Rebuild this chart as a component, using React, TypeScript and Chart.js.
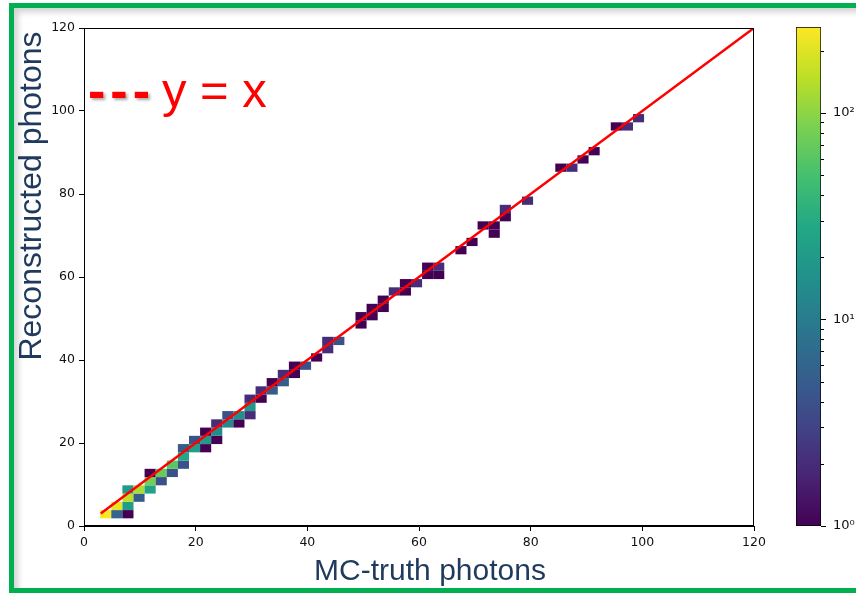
import React, { useEffect, useRef } from "react";
import { Chart, registerables } from "chart.js";

Chart.register(...registerables);

// ---------- data ----------
const AXIS_MIN = 0;
const AXIS_MAX = 120;
const AXIS_TICKS = [0, 20, 40, 60, 80, 100, 120];

// 2D-histogram binning (bin lower edge in data units, bin width)
const BIN_X0 = 2.9;
const BIN_Y0 = 1.85;
const BIN_W = 1.988;

// non-empty bins: x-bin index, y-bin index, entries
const CELL_I = [
  0,
  1, 1,
  2, 2, 2, 2,
  3, 3,
  4, 4, 4,
  5, 5,
  6, 6,
  7, 7, 7,
  8, 8,
  9, 9, 9,
  10, 10, 10,
  11, 11,
  12, 12,
  13, 13, 13,
  14, 14,
  15, 15,
  16, 16,
  17, 17,
  18,
  19,
  20, 20,
  21,
  23, 23,
  24, 24,
  25, 25,
  26,
  27, 27,
  28,
  29, 29,
  30, 30,
  32,
  33,
  34,
  35, 35,
  36, 36,
  38,
  41,
  42,
  43,
  44,
  46,
  47,
  48,
];
const CELL_J = [
  0,
  0, 1,
  0, 1, 2, 3,
  2, 3,
  3, 4, 5,
  4, 5,
  5, 6,
  6, 7, 8,
  8, 9,
  8, 9, 10,
  9, 10, 11,
  11, 12,
  11, 12,
  12, 13, 14,
  14, 15,
  15, 16,
  16, 17,
  17, 18,
  18,
  19,
  20, 21,
  21,
  23, 24,
  24, 25,
  25, 26,
  27,
  27, 28,
  28,
  29, 30,
  29, 30,
  32,
  33,
  35,
  34, 35,
  36, 37,
  38,
  42,
  42,
  43,
  44,
  47,
  47,
  48,
];
const CELL_COUNT = [
  250,
  6, 220,
  1, 22, 150, 20,
  5, 130,
  25, 80, 1,
  4, 70,
  4, 60,
  4, 28, 5,
  22, 4,
  1, 20, 1,
  1, 15, 2,
  14, 4,
  1, 16,
  2, 18, 2,
  1, 2,
  5, 1,
  5, 2,
  1, 1,
  4,
  1,
  2, 2,
  4,
  1, 1,
  1, 1,
  1, 1,
  2,
  1, 1,
  2,
  1, 1,
  1, 2,
  1,
  1,
  1,
  1, 1,
  1, 2,
  2,
  1,
  2,
  1,
  1,
  1,
  2,
  2,
];

// y = x reference line
const LINE_X = [3, 120];
const LINE_Y = [3, 120];

// colour bar (log scale)
const CB_MIN = 1;
const CB_MAX = 260;
const CB_MAJOR = [1, 10, 100];
const CB_MAJOR_LABELS = ["10\u2070", "10\u00b9", "10\u00b2"];
const CB_MINOR = [2, 3, 4, 5, 6, 7, 8, 9, 20, 30, 40, 50, 60, 70, 80, 90, 200];

// texts
const X_TITLE = "MC-truth photons";
const Y_TITLE = "Reconstructed photons";
const LEGEND_DASH = "---";
const LEGEND_TEXT = "y = x";

// ---------- style ----------
const VIRIDIS = [
  "#440154", "#482475", "#414487", "#355f8d", "#2a788e", "#21918c",
  "#22a884", "#44bf70", "#7ad151", "#bddf26", "#fde725",
];
const TITLE_COLOR = "#1f3a5c";
const RED = "#ff0000";

function hexToRgb(h: string) {
  const n = parseInt(h.slice(1), 16);
  return [(n >> 16) & 255, (n >> 8) & 255, n & 255];
}
function viridis(t: number) {
  const tt = Math.max(0, Math.min(1, t));
  const p = tt * (VIRIDIS.length - 1);
  const i = Math.min(Math.floor(p), VIRIDIS.length - 2);
  const f = p - i;
  const a = hexToRgb(VIRIDIS[i]);
  const b = hexToRgb(VIRIDIS[i + 1]);
  const c = a.map((v, k) => Math.round(v + (b[k] - v) * f));
  return `rgb(${c[0]},${c[1]},${c[2]})`;
}

const FONT = "DejaVu Sans";
Chart.defaults.font.family = FONT;

export default function App() {
  const mainRef = useRef<HTMLCanvasElement>(null);
  const cbRef = useRef<HTMLCanvasElement>(null);

  useEffect(() => {
    const logMax = Math.log10(CB_MAX);

    const cellPlugin = {
      id: "cells",
      beforeDatasetsDraw(chart: any) {
        const { ctx, scales } = chart;
        const xs = scales.x;
        const ys = scales.y;
        ctx.save();
        for (let k = 0; k < CELL_I.length; k++) {
          const xl = xs.getPixelForValue(BIN_X0 + CELL_I[k] * BIN_W);
          const xr = xs.getPixelForValue(BIN_X0 + (CELL_I[k] + 1) * BIN_W);
          const yb = ys.getPixelForValue(BIN_Y0 + CELL_J[k] * BIN_W);
          const yt = ys.getPixelForValue(BIN_Y0 + (CELL_J[k] + 1) * BIN_W);
          ctx.fillStyle = viridis(Math.log10(CELL_COUNT[k]) / logMax);
          ctx.fillRect(xl, yt, xr - xl, yb - yt);
        }
        ctx.restore();
      },
    };

    const annotPlugin = {
      id: "annot",
      afterDraw(chart: any) {
        const { ctx, chartArea } = chart;
        ctx.save();
        // top/right spines
        ctx.strokeStyle = "#000";
        ctx.lineWidth = 1;
        ctx.strokeRect(
          Math.round(chartArea.left) + 0.5,
          Math.round(chartArea.top) + 0.5,
          Math.round(chartArea.right - chartArea.left) - 1,
          Math.round(chartArea.bottom - chartArea.top) - 1
        );
        // axis titles
        ctx.fillStyle = TITLE_COLOR;
        ctx.font = "30px 'Liberation Sans', Arial, sans-serif";
        ctx.textAlign = "center";
        ctx.textBaseline = "alphabetic";
        ctx.fillText(X_TITLE, 430, 580);
        ctx.save();
        ctx.translate(41, 196);
        ctx.rotate(-Math.PI / 2);
        ctx.font = "32px 'Liberation Sans', Arial, sans-serif";
        ctx.fillText(Y_TITLE, 0, 0);
        ctx.restore();
        // legend annotation
        ctx.textAlign = "left";
        ctx.save();
        ctx.shadowColor = "rgba(0,0,0,0.35)";
        ctx.shadowOffsetX = 2;
        ctx.shadowOffsetY = 2;
        ctx.shadowBlur = 3;
        ctx.fillStyle = RED;
        ctx.font = "bold 52px 'Liberation Sans', Arial, sans-serif";
        (ctx as any).letterSpacing = "5px";
        ctx.fillText(LEGEND_DASH, 88, 108);
        (ctx as any).letterSpacing = "0px";
        ctx.restore();
        ctx.fillStyle = RED;
        ctx.font = "49px 'Liberation Sans', Arial, sans-serif";
        ctx.fillText(LEGEND_TEXT, 162, 107);
        ctx.restore();
      },
    };

    const axisCommon = (fit: (s: any) => void) => ({
      type: "linear" as const,
      min: AXIS_MIN,
      max: AXIS_MAX,
      afterFit: fit,
      afterBuildTicks: (s: any) => {
        s.ticks = AXIS_TICKS.map((v) => ({ value: v }));
      },
      ticks: {
        font: { family: FONT, size: 12.5 },
        color: "#111",
        padding: 4,
        maxRotation: 0,
        autoSkip: false,
      },
      grid: {
        drawOnChartArea: false,
        drawTicks: true,
        tickLength: 5,
        tickColor: "#000",
        tickWidth: 1,
      },
      border: { display: true, color: "#000", width: 1 },
    });

    const main = new Chart(mainRef.current as HTMLCanvasElement, {
      type: "scatter",
      data: {
        datasets: [
          {
            data: LINE_X.map((v, i) => ({ x: v, y: LINE_Y[i] })),
            showLine: true,
            borderColor: RED,
            backgroundColor: RED,
            borderWidth: 2.5,
            pointRadius: 0,
            fill: false,
          },
        ],
      },
      options: {
        responsive: false,
        animation: false,
        layout: { padding: { left: 0, top: 28, right: 102, bottom: 0 } },
        plugins: { legend: { display: false }, tooltip: { enabled: false } },
        scales: {
          x: axisCommon((s: any) => {
            s.height = 68;
          }),
          y: axisCommon((s: any) => {
            s.width = 84;
          }),
        },
      },
      plugins: [cellPlugin, annotPlugin],
    } as any);

    const cbTickPlugin = {
      id: "cbticks",
      afterDraw(chart: any) {
        const { ctx, chartArea, scales } = chart;
        const ys = scales.y;
        ctx.save();
        ctx.strokeStyle = "#000";
        ctx.lineWidth = 1;
        const all = [...CB_MAJOR.map((v) => [v, 5]), ...CB_MINOR.map((v) => [v, 3])];
        for (const [v, len] of all) {
          const py = Math.round(ys.getPixelForValue(v)) + 0.5;
          ctx.beginPath();
          ctx.moveTo(chartArea.right, py);
          ctx.lineTo(chartArea.right + len, py);
          ctx.stroke();
        }
        ctx.restore();
      },
    };

    const cb = new Chart(cbRef.current as HTMLCanvasElement, {
      type: "bar",
      data: {
        labels: ["cb"],
        datasets: [
          {
            data: [[CB_MIN, CB_MAX]],
            backgroundColor: (c: any) => {
              const ca = c.chart.chartArea;
              if (!ca) return VIRIDIS[0];
              const g = c.chart.ctx.createLinearGradient(0, ca.bottom, 0, ca.top);
              VIRIDIS.forEach((col, i) => g.addColorStop(i / (VIRIDIS.length - 1), col));
              return g;
            },
            borderColor: "#000",
            borderWidth: 1,
            borderSkipped: false,
            barPercentage: 1,
            categoryPercentage: 1,
          },
        ],
      },
      options: {
        responsive: false,
        animation: false,
        layout: { padding: { left: 36, right: 0, top: 27, bottom: 68 } },
        plugins: { legend: { display: false }, tooltip: { enabled: false } },
        scales: {
          x: { display: false },
          y: {
            type: "logarithmic",
            position: "right",
            min: CB_MIN,
            max: CB_MAX,
            afterFit: (s: any) => {
              s.width = 35;
            },
            afterBuildTicks: (s: any) => {
              s.ticks = CB_MAJOR.map((v) => ({ value: v }));
            },
            ticks: {
              autoSkip: false,
              padding: 4,
              color: "#111",
              font: { family: FONT, size: 13 },
              callback: (v: any) => {
                const idx = CB_MAJOR.indexOf(Number(v));
                return idx >= 0 ? CB_MAJOR_LABELS[idx] : "";
              },
            },
            grid: { display: false },
            border: { display: false },
          },
        },
      },
      plugins: [cbTickPlugin],
    } as any);

    return () => {
      main.destroy();
      cb.destroy();
    };
  }, []);

  return (
    <div
      style={{
        position: "fixed",
        left: 0,
        top: 0,
        width: 856,
        height: 594,
        background: "#fff",
        overflow: "hidden",
      }}
    >
      <div
        style={{
          position: "absolute",
          left: 9,
          top: 3,
          width: 900,
          height: 590,
          boxSizing: "border-box",
          border: "5px solid #00b050",
          boxShadow: "inset 4px 4px 6px rgba(0,0,0,0.18)",
        }}
      />
      <canvas
        ref={mainRef}
        width={856}
        height={594}
        style={{ position: "absolute", left: 0, top: 0, width: 856, height: 594 }}
      />
      <canvas
        ref={cbRef}
        width={96}
        height={594}
        style={{ position: "absolute", left: 760, top: 0, width: 96, height: 594 }}
      />
    </div>
  );
}
